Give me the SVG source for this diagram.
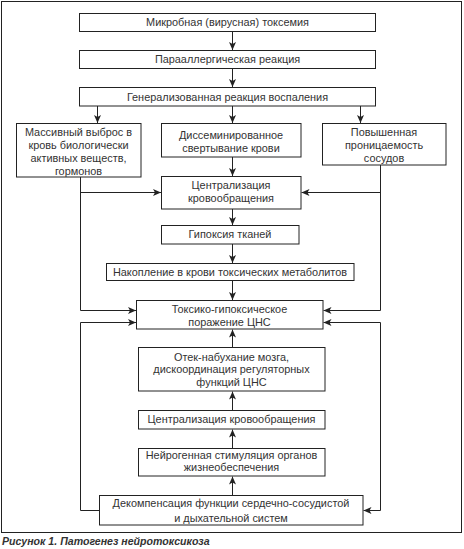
<svg xmlns="http://www.w3.org/2000/svg" width="464" height="549" viewBox="0 0 464 549">
<defs>
<marker id="ah" viewBox="0 0 8 8" refX="8" refY="4" markerWidth="8" markerHeight="8" markerUnits="userSpaceOnUse" orient="auto-start-reverse">
<path d="M0,0.5 L8,4 L0,7.5 L2,4 z" fill="#222"/>
</marker>
</defs>
<style>
.box{fill:#fff;stroke:#222;stroke-width:1}
.t{font-family:"Liberation Sans",Arial,sans-serif;font-size:10.9px;fill:#333;text-anchor:middle}
.c{fill:none;stroke:#222;stroke-width:1}
.cap{font-family:"Liberation Sans",Arial,sans-serif;font-size:10.6px;font-weight:bold;font-style:italic;fill:#333}
</style>
<rect x="0" y="0" width="464" height="549" fill="#fff"/>
<rect x="1.5" y="1.5" width="460" height="531" fill="none" stroke="#222" stroke-width="1"/>

<g id="n1"><rect class="box" x="79.5" y="13.5" width="296" height="18"/><text class="t" x="227.5" y="26.3">Микробная (вирусная) токсемия</text></g>
<g id="n2"><rect class="box" x="79.5" y="50.5" width="296" height="18"/><text class="t" x="227.5" y="63.3">Парааллергическая реакция</text></g>
<g id="n3"><rect class="box" x="79.5" y="87.5" width="296" height="18.5"/><text class="t" x="227.5" y="100.5">Генерализованная реакция воспаления</text></g>
<g id="n4"><rect class="box" x="16.5" y="123.5" width="124.5" height="53.5"/>
<text class="t" x="78.5" y="135.8">Массивный выброс в</text>
<text class="t" x="78.5" y="148.8">кровь биологически</text>
<text class="t" x="78.5" y="161.8">активных веществ,</text>
<text class="t" x="78.5" y="174.8">гормонов</text></g>
<g id="n5"><rect class="box" x="161.5" y="123.5" width="139.5" height="33.5"/>
<text class="t" x="231" y="138.8">Диссеминированное</text>
<text class="t" x="231" y="151.8">свертывание крови</text></g>
<g id="n6"><rect class="box" x="322.5" y="123.5" width="123.5" height="41.5"/>
<text class="t" x="384" y="135.8">Повышенная</text>
<text class="t" x="384" y="148.8">проницаемость</text>
<text class="t" x="384" y="161.8">сосудов</text></g>
<g id="n7"><rect class="box" x="161.5" y="176.5" width="139.5" height="32.5"/>
<text class="t" x="231" y="188.8">Централизация</text>
<text class="t" x="231" y="201.8">кровообращения</text></g>
<g id="n8"><rect class="box" x="161.5" y="225.5" width="137.5" height="18.5"/><text class="t" x="230" y="238.3">Гипоксия тканей</text></g>
<g id="n9"><rect class="box" x="106.5" y="263.5" width="247.5" height="17"/><text class="t" x="230" y="275.8">Накопление в крови токсических метаболитов</text></g>
<g id="n10"><rect class="box" x="136.5" y="300.5" width="186.5" height="28.5"/>
<text class="t" x="229.5" y="312.8">Токсико-гипоксическое</text>
<text class="t" x="229.5" y="325.8">поражение ЦНС</text></g>
<g id="n11"><rect class="box" x="138.5" y="347.5" width="186.5" height="43.5"/>
<text class="t" x="231.5" y="360.8">Отек-набухание мозга,</text>
<text class="t" x="231.5" y="373.3">дискоординация регуляторных</text>
<text class="t" x="231.5" y="385.8">функций ЦНС</text></g>
<g id="n12"><rect class="box" x="138.5" y="410.5" width="186.5" height="18.5"/><text class="t" x="231.5" y="423.3">Централизация кровообращения</text></g>
<g id="n13"><rect class="box" x="138.5" y="448.5" width="186.5" height="27.5"/>
<text class="t" x="231.5" y="458.8">Нейрогенная стимуляция органов</text>
<text class="t" x="231.5" y="471.3">жизнеобеспечения</text></g>
<g id="n14"><rect class="box" x="99.5" y="495.5" width="263.5" height="29.5"/>
<text class="t" x="231" y="506.8">Декомпенсация функции сердечно-сосудистой</text>
<text class="t" x="231" y="521.8">и дыхательной систем</text></g>

<g id="connectors">
<path class="c" d="M232.5,31.5 V50" marker-end="url(#ah)"/>
<path class="c" d="M232.5,68.5 V87" marker-end="url(#ah)"/>
<path class="c" d="M97.5,106 V123" marker-end="url(#ah)"/>
<path class="c" d="M232.5,106 V123" marker-end="url(#ah)"/>
<path class="c" d="M360.5,106 V123" marker-end="url(#ah)"/>
<path class="c" d="M232.5,157 V176" marker-end="url(#ah)"/>
<path class="c" d="M232.5,209 V225" marker-end="url(#ah)"/>
<path class="c" d="M232.5,244 V263" marker-end="url(#ah)"/>
<path class="c" d="M232.5,281 V300" marker-end="url(#ah)"/>
<path class="c" d="M80.5,177 V310.5 H136" marker-end="url(#ah)"/>
<path class="c" d="M80.5,192.5 H161" marker-end="url(#ah)"/>
<path class="c" d="M380.5,165 V310.5 H323.5" marker-end="url(#ah)"/>
<path class="c" d="M380.5,192.5 H301.5" marker-end="url(#ah)"/>
<path class="c" d="M99.5,510.5 H80.5 V322.5 H136" marker-end="url(#ah)"/>
<path class="c" d="M323.5,322.5 H380.5 V510.5 H363.5" marker-start="url(#ah)" marker-end="url(#ah)"/>
<path class="c" d="M232.5,347 V329.5" marker-end="url(#ah)"/>
<path class="c" d="M232.5,410 V391.5" marker-end="url(#ah)"/>
<path class="c" d="M232.5,448 V429.5" marker-end="url(#ah)"/>
<path class="c" d="M232.5,495 V476.5" marker-end="url(#ah)"/>
</g>
<text class="cap" x="2" y="545">Рисунок 1. Патогенез нейротоксикоза</text>
</svg>
